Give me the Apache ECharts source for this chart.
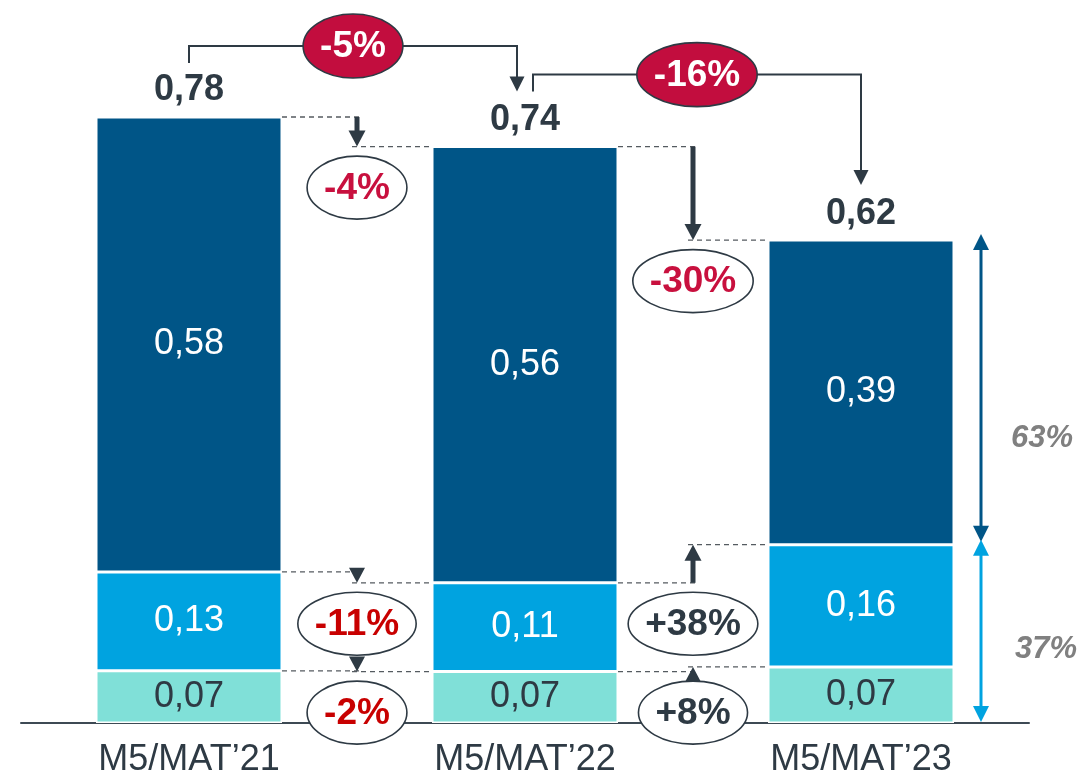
<!DOCTYPE html>
<html>
<head>
<meta charset="utf-8">
<script src="https://cdn.jsdelivr.net/npm/echarts@6/dist/echarts.min.js"></script>
<style>
  html, body { margin: 0; padding: 0; background: #ffffff; }
  #chart { width: 1081px; height: 775px; }
</style>
</head>
<body>
<div id="chart"></div>
<script>
// ---------------- data ----------------
const categories = ['M5/MAT\u201921', 'M5/MAT\u201922', 'M5/MAT\u201923'];
const tealValues  = [0.067, 0.066, 0.072];   // bottom segment
const lightValues = [0.127, 0.114, 0.157];   // middle segment
const darkValues  = [0.584, 0.560, 0.391];   // top segment
const totalChange = ['-5%', '-16%'];
const darkChange  = ['-4%', '-30%'];
const lightChange = ['-11%', '+38%'];
const tealChange  = ['-2%', '+8%'];
const shareLabels = ['63%', '37%'];

const totals = categories.map((c, i) => tealValues[i] + lightValues[i] + darkValues[i]);

// ---------------- style ----------------
const FONT = '"Liberation Sans", Arial, Helvetica, sans-serif';
const TXT = '#2e3a44';
const DARK = '#005587';
const LIGHT = '#00a3e0';
const TEAL = '#80e0d8';
const RED_FILL = '#c20d3e';
const RED_TXT = '#c8103e';
const RED_TXT2 = '#c80000';
const BAR_W = 186;

const fmt = v => v.toFixed(2).replace('.', ',');

const chart = echarts.init(document.getElementById('chart'), null, { renderer: 'canvas' });

const segLabel = (color) => ({
  show: true, position: 'inside', color: color, fontSize: 36, fontFamily: FONT,
  formatter: p => fmt(p.value)
});

chart.setOption({
  animation: false,
  backgroundColor: '#ffffff',
  grid: { left: 21, right: 52, top: 22, bottom: 52, outerBoundsMode: 'none', containLabel: false },
  xAxis: {
    type: 'category', data: categories,
    axisLine: { show: true, lineStyle: { color: '#3d4a54', width: 2 } },
    axisTick: { show: false },
    axisLabel: { color: TXT, fontSize: 36, fontFamily: FONT, margin: 19 }
  },
  yAxis: { type: 'value', min: 0, max: 0.9, show: false, splitLine: { show: false } },
  series: [
    { name: 'teal', type: 'bar', stack: 's', barWidth: BAR_W, data: tealValues,
      itemStyle: { color: TEAL, borderColor: '#fff', borderWidth: 1.5 }, label: segLabel(TXT) },
    { name: 'light', type: 'bar', stack: 's', barWidth: BAR_W, data: lightValues,
      itemStyle: { color: LIGHT, borderColor: '#fff', borderWidth: 1.5 }, label: segLabel('#ffffff') },
    { name: 'dark', type: 'bar', stack: 's', barWidth: BAR_W, data: darkValues,
      itemStyle: { color: DARK, borderColor: '#fff', borderWidth: 1.5 }, label: segLabel('#ffffff') },
    { name: 'total', type: 'line', data: totals, symbol: 'circle', symbolSize: 1, silent: true,
      lineStyle: { opacity: 0 }, itemStyle: { color: 'rgba(0,0,0,0)', borderWidth: 0 },
      label: { show: true, position: 'top', distance: 8, color: TXT, fontSize: 36, fontWeight: 'bold',
               fontFamily: FONT, formatter: p => fmt(p.value) }, z: 5 }
  ]
});

// ---------------- annotations (positions derived from the axes) ----------------
const px = i => chart.convertToPixel({ xAxisIndex: 0 }, categories[i]);
const py = v => chart.convertToPixel({ yAxisIndex: 0 }, v);
const half = BAR_W / 2;

const cx = categories.map((c, i) => px(i));
const tealTop = tealValues.map(v => py(v));
const lightTop = tealValues.map((v, i) => py(v + lightValues[i]));
const topY = totals.map(v => py(v));
const base = py(0);

const g = [];
const ink = TXT;

function head(x, tip, dir, color, w = 16, h = 16) {
  const b = dir === 'down' ? tip - h : tip + h;
  g.push({ type: 'polygon', z: 20, shape: { points: [[x - w / 2, b], [x + w / 2, b], [x, tip]] },
           style: { fill: color } });
}
function seg(x1, y1, x2, y2, color, w, dash) {
  g.push({ type: 'line', z: 18, shape: { x1, y1, x2, y2 },
           style: { stroke: color, lineWidth: w, lineDash: dash || null } });
}
function oval(cxp, cyp, rx, ry, fill, text, tcolor) {
  g.push({ type: 'ellipse', z: 30, shape: { cx: cxp, cy: cyp, rx, ry },
           style: { fill: fill, stroke: ink, lineWidth: 1.6 } });
  g.push({ type: 'text', z: 31, x: cxp, y: cyp + 1,
           style: { text: text, fill: tcolor, font: 'bold 37px ' + FONT, align: 'center', verticalAlign: 'middle' } });
}
function ovalRx(text) {
  const ctx = document.createElement('canvas').getContext('2d');
  ctx.font = 'bold 37px ' + FONT;
  return ctx.measureText(text).width / 2 + 17;
}

// brackets with total change
const bracketCfg = [
  { from: cx[0], to: cx[1] - 8, startY: topY[0] - 54, barY: topY[0] - 71, tip: topY[1] - 55 },
  { from: cx[1] + 8, to: cx[2], startY: topY[1] - 55, barY: topY[1] - 72, tip: topY[2] - 55 }
];
bracketCfg.forEach((b, i) => {
  g.push({ type: 'polyline', z: 18,
           shape: { points: [[b.from, b.startY], [b.from, b.barY], [b.to, b.barY], [b.to, b.tip - 14]] },
           style: { stroke: ink, lineWidth: 2, fill: null } });
  head(b.to, b.tip, 'down', ink, 15, 15);
  oval((b.from + b.to) / 2, b.barY, ovalRx(totalChange[i]), 32, RED_FILL, totalChange[i], '#ffffff');
});

// per-segment connectors
const levels = [
  { y: topY, changes: darkChange, colors: [RED_TXT, RED_TXT] },
  { y: lightTop, changes: lightChange, colors: [RED_TXT2, ink] },
  { y: tealTop, changes: tealChange, colors: [RED_TXT2, ink] }
];
for (let i = 0; i < categories.length - 1; i++) {
  const gx = (cx[i] + cx[i + 1]) / 2;
  levels.forEach(L => {
    const a = L.y[i], b = L.y[i + 1];
    const txt = L.changes[i];
    const dir = txt.charAt(0) === '-' ? 'down' : 'up';
    seg(cx[i] + half, a, gx + 4, a, '#555b60', 1.3, [5, 4]);
    seg(gx - 5, b, cx[i + 1] - half, b, '#555b60', 1.3, [5, 4]);
    if (Math.abs(b - a) > 22) {
      const shaftEnd = dir === 'down' ? b - 14 : b + 14;
      seg(gx, a, gx, shaftEnd, ink, 5);
      head(gx, b, dir, ink, 17, 16);
    } else {
      head(gx, b, dir, ink, 16, 15);
    }
    oval(gx, Math.max(a, b) + 41, ovalRx(txt), 31.5, '#ffffff', txt, L.colors[i]);
  });
}

// share arrows on the right
const ax = cx[2] + half + 27;
seg(ax, topY[2] - 6 + 14, ax, lightTop[2] - 3 - 14, DARK, 3);
head(ax, topY[2] - 6, 'up', DARK, 16, 16);
head(ax, lightTop[2] - 3, 'down', DARK, 16, 16);
seg(ax, lightTop[2] - 5 + 14, ax, base - 1 - 14, LIGHT, 3);
head(ax, lightTop[2] - 5, 'up', LIGHT, 16, 16);
head(ax, base - 1, 'down', LIGHT, 16, 16);

g.push({ type: 'text', z: 31, x: ax + 61, y: lightTop[2] + (topY[2] - lightTop[2]) * 0.355 + 2,
         style: { text: shareLabels[0], fill: '#808080', font: 'italic bold 31px ' + FONT, align: 'center', verticalAlign: 'middle' } });
g.push({ type: 'text', z: 31, x: ax + 65, y: base + (lightTop[2] - base) * 0.43 + 3,
         style: { text: shareLabels[1], fill: '#808080', font: 'italic bold 31px ' + FONT, align: 'center', verticalAlign: 'middle' } });

chart.setOption({ graphic: { elements: g } });
</script>
</body>
</html>
